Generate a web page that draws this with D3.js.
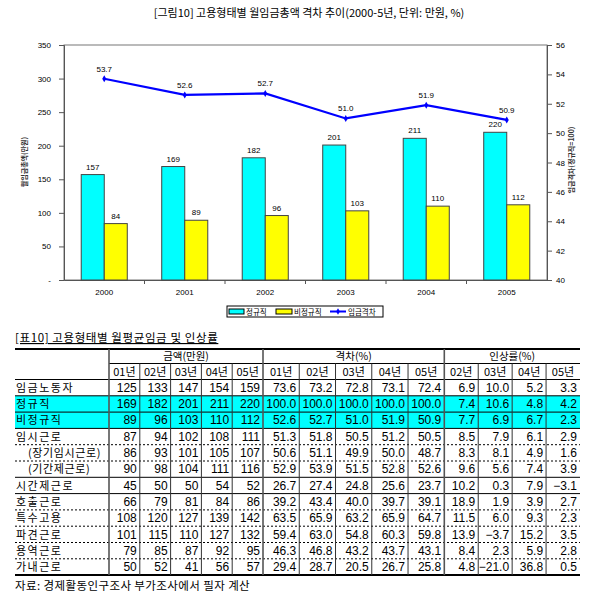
<!DOCTYPE html>
<html><head><meta charset="utf-8">
<script src="https://cdn.jsdelivr.net/npm/d3@7"></script>
<style>
body{margin:0;background:#fff;}
svg{display:block;}
</style>
</head><body>
<svg id="c" width="595" height="600"></svg>
<script>
// ---------- Chart data ----------
const categories = ["2000","2001","2002","2003","2004","2005"];
const regular = [157,169,182,201,211,220];
const nonRegular = [84,89,96,103,110,112];
const wageGap = [53.7,52.6,52.7,51.0,51.9,50.9];
const leftTicks = [0,50,100,150,200,250,300,350];
const rightTicks = [40,42,44,46,48,50,52,54,56];
const legendLabels = ["정규직","비정규직","임금격차"];
const chartTitle = "[그림10] 고용형태별 월임금총액 격차 추이(2000-5년, 단위: 만원, %)";
const leftAxisTitle = "월임금총액(만원)";
const rightAxisTitle = "임금격차(정규직=100)";

// ---------- Table data ----------
const tableTitle = "[표10] 고용형태별 월평균임금 및 인상률";
const groupHeaders = ["금액(만원)","격차(%)","인상률(%)"];
const amountYears = ["01년","02년","03년","04년","05년"];
const gapYears = ["01년","02년","03년","04년","05년"];
const rateYears = ["02년","03년","04년","05년"];
const rowLabels = ["임금노동자","정규직","비정규직","임시근로","(장기임시근로)","(기간제근로)","시간제근로","호출근로","특수고용","파견근로","용역근로","가내근로"];
const amountValues = [
  [125,133,147,154,159],
  [169,182,201,211,220],
  [89,96,103,110,112],
  [87,94,102,108,111],
  [86,93,101,105,107],
  [90,98,104,111,116],
  [45,50,50,54,52],
  [66,79,81,84,86],
  [108,120,127,139,142],
  [101,115,110,127,132],
  [79,85,87,92,95],
  [50,52,41,56,57]
];
const gapValues = [
  [73.6,73.2,72.8,73.1,72.4],
  [100.0,100.0,100.0,100.0,100.0],
  [52.6,52.7,51.0,51.9,50.9],
  [51.3,51.8,50.5,51.2,50.5],
  [50.6,51.1,49.9,50.0,48.7],
  [52.9,53.9,51.5,52.8,52.6],
  [26.7,27.4,24.8,25.6,23.7],
  [39.2,43.4,40.0,39.7,39.1],
  [63.5,65.9,63.2,65.9,64.7],
  [59.4,63.0,54.8,60.3,59.8],
  [46.3,46.8,43.2,43.7,43.1],
  [29.4,28.7,20.5,26.7,25.8]
];
const rateValues = [
  [6.9,10.0,5.2,3.3],
  [7.4,10.6,4.8,4.2],
  [7.7,6.9,6.7,2.3],
  [8.5,7.9,6.1,2.9],
  [8.3,8.1,4.9,1.6],
  [9.6,5.6,7.4,3.9],
  [10.2,0.3,7.9,-3.1],
  [18.9,1.9,3.9,2.7],
  [11.5,6.0,9.3,2.3],
  [13.9,-3.7,15.2,3.5],
  [8.4,2.3,5.9,2.8],
  [4.8,-21.0,36.8,0.5]
];
const highlightRows = [1,2];
const indentRows = [4,5];
const solidAfter = [0,1,2,5,6];
const sourceNote = "자료: 경제활동인구조사 부가조사에서 필자 계산";

// ---------- Drawing ----------
const svg = d3.select("#c");
const KR = "'Noto Sans CJK KR','Noto Sans',sans-serif";
const AR = "'Liberation Sans',Arial,sans-serif";
const NUM = "'Liberation Sans Narrow','Liberation Sans',Arial,sans-serif";

svg.append("text").attr("x",309).attr("y",17).attr("text-anchor","middle")
  .attr("font-family",KR).attr("font-size",11).attr("fill","#000").text(chartTitle);

const L=64,R=547,T=45,B=280;
const x = d3.scaleBand().domain(categories).range([L,R]).padding(0);
const yL = d3.scaleLinear().domain([0,350]).range([B,T]);
const yR = d3.scaleLinear().domain([40,56]).range([B,T]);
const groupW = x.bandwidth()*0.572;
const x1 = d3.scaleBand().domain(["r","n"]).range([0,groupW]).padding(0);

// frame
svg.append("rect").attr("x",L).attr("y",T).attr("width",R-L).attr("height",B-T)
  .attr("fill","none").attr("stroke","#777").attr("stroke-width",1);

// left axis
const gl = svg.append("g").attr("transform",`translate(${L},0)`)
  .call(d3.axisLeft(yL).tickValues(leftTicks).tickSize(5).tickPadding(8)
    .tickFormat(d=>d===0?"-":d));
// right axis
const gr = svg.append("g").attr("transform",`translate(${R},0)`)
  .call(d3.axisRight(yR).tickValues(rightTicks).tickSize(5).tickPadding(4));
[gl,gr].forEach(g=>{
  g.select(".domain").attr("stroke","#555");
  g.selectAll(".tick line").attr("stroke","#555");
  g.selectAll("text").attr("font-family",AR).attr("font-size",8).attr("fill","#000");
});
// bottom axis
const gb = svg.append("g").attr("transform",`translate(0,${B})`)
  .call(d3.axisBottom(x).tickSize(0).tickPadding(9));
gb.select(".domain").attr("stroke","#555");
gb.selectAll("text").attr("font-family",AR).attr("font-size",8).attr("fill","#000");
// category boundary ticks
svg.append("g").selectAll("line").data(categories.slice(1)).join("line")
  .attr("x1",d=>x(d)).attr("x2",d=>x(d)).attr("y1",B).attr("y2",B+4)
  .attr("stroke","#555");

// axis titles
svg.append("text").attr("transform",`translate(27,162) rotate(-90)`).attr("text-anchor","middle")
  .attr("font-family",KR).attr("font-size",7).attr("font-weight","bold").attr("fill","#333").text(leftAxisTitle);
svg.append("text").attr("transform",`translate(574,160) rotate(-90)`).attr("text-anchor","middle")
  .attr("font-family",KR).attr("font-size",7).attr("font-weight","bold").attr("fill","#333").text(rightAxisTitle);

// bars
const groups = svg.append("g").selectAll("g").data(categories).join("g")
  .attr("transform",d=>`translate(${x(d)+(x.bandwidth()-groupW)/2},0)`);
groups.append("rect").attr("x",x1("r")).attr("width",x1.bandwidth())
  .attr("y",(d,i)=>yL(regular[i])).attr("height",(d,i)=>B-yL(regular[i]))
  .attr("fill","#00FFFF").attr("stroke","#444").attr("stroke-width",1);
groups.append("rect").attr("x",x1("n")).attr("width",x1.bandwidth())
  .attr("y",(d,i)=>yL(nonRegular[i])).attr("height",(d,i)=>B-yL(nonRegular[i]))
  .attr("fill","#FFFF00").attr("stroke","#444").attr("stroke-width",1);
groups.append("text").attr("x",x1("r")+x1.bandwidth()/2).attr("y",(d,i)=>yL(regular[i])-5)
  .attr("text-anchor","middle").attr("font-family",AR).attr("font-size",8).text((d,i)=>regular[i]);
groups.append("text").attr("x",x1("n")+x1.bandwidth()/2).attr("y",(d,i)=>yL(nonRegular[i])-5)
  .attr("text-anchor","middle").attr("font-family",AR).attr("font-size",8).text((d,i)=>nonRegular[i]);

// line
const cx = d=>x(d)+x.bandwidth()/2;
svg.append("path").datum(categories)
  .attr("d",d3.line().x(cx).y((d,i)=>yR(wageGap[i])))
  .attr("fill","none").attr("stroke","#0000FF").attr("stroke-width",2.2);
svg.append("g").selectAll("path").data(categories).join("path")
  .attr("transform",(d,i)=>`translate(${cx(d)},${yR(wageGap[i])})`)
  .attr("d",d3.symbol(d3.symbolDiamond,14)).attr("fill","#0000FF");
svg.append("g").selectAll("text").data(categories).join("text")
  .attr("x",cx).attr("y",(d,i)=>yR(wageGap[i])-7).attr("text-anchor","middle")
  .attr("font-family",AR).attr("font-size",8).text((d,i)=>wageGap[i].toFixed(1));

// legend
const lg = svg.append("g");
lg.append("rect").attr("x",227).attr("y",306).attr("width",156).attr("height",11)
  .attr("fill","#fff").attr("stroke","#000");
lg.append("rect").attr("x",229).attr("y",309).attr("width",15).attr("height",5).attr("fill","#00FFFF").attr("stroke","#000");
lg.append("text").attr("x",246).attr("y",314.5).attr("font-family",KR).attr("font-size",7.5).text(legendLabels[0]);
lg.append("rect").attr("x",276).attr("y",309).attr("width",16).attr("height",5).attr("fill","#FFFF00").attr("stroke","#000");
lg.append("text").attr("x",294).attr("y",314.5).attr("font-family",KR).attr("font-size",7.5).text(legendLabels[1]);
lg.append("line").attr("x1",330).attr("x2",346).attr("y1",311.5).attr("y2",311.5).attr("stroke","#0000FF").attr("stroke-width",2);
lg.append("path").attr("transform","translate(338,311.5)").attr("d",d3.symbol(d3.symbolDiamond,12)).attr("fill","#0000FF");
lg.append("text").attr("x",348).attr("y",314.5).attr("font-family",KR).attr("font-size",7.5).text(legendLabels[2]);

// ---------- Table ----------
const tX0=15, tX1=580, labW=109;
const colEdges=[labW];
const amountW=(263-labW)/5, gapW=(444.3-263)/5, rateW=(580-444.3)/4;
for(let i=1;i<=5;i++) colEdges.push(labW+amountW*i);
for(let i=1;i<=5;i++) colEdges.push(263+gapW*i);
for(let i=1;i<=4;i++) colEdges.push(444.3+rateW*i);
const hY0=349, hY1=363.5, hY2=379.5, rowH=16.3;
const nRows=rowLabels.length;
const tBottom=hY2+rowH*nRows;
const t = svg.append("g");

t.append("text").attr("x",15).attr("y",342).attr("font-family",KR).attr("font-size",11.5)
  .attr("letter-spacing",0.6).attr("text-decoration","underline").text(tableTitle);

// highlight rows
highlightRows.forEach(r=>{
  t.append("rect").attr("x",tX0).attr("y",hY2+rowH*r).attr("width",tX1-tX0).attr("height",rowH).attr("fill","#00FFFF");
});

// horizontal lines
t.append("line").attr("x1",tX0).attr("x2",tX1).attr("y1",hY0).attr("y2",hY0).attr("stroke","#000").attr("stroke-width",2);
t.append("line").attr("x1",labW).attr("x2",tX1).attr("y1",hY1).attr("y2",hY1).attr("stroke","#000").attr("stroke-width",1);
t.append("line").attr("x1",tX0).attr("x2",tX1).attr("y1",hY2).attr("y2",hY2).attr("stroke","#000").attr("stroke-width",1);
for(let r=0;r<nRows-1;r++){
  const yy=hY2+rowH*(r+1);
  const ln=t.append("line").attr("x1",tX0).attr("x2",tX1).attr("y1",yy).attr("y2",yy).attr("stroke","#000").attr("stroke-width",1);
  if(!solidAfter.includes(r)) ln.attr("stroke-dasharray","2,2");
}
t.append("line").attr("x1",tX0).attr("x2",tX1).attr("y1",tBottom).attr("y2",tBottom).attr("stroke","#000").attr("stroke-width",2);

// vertical lines
colEdges.slice(0,colEdges.length-1).forEach((cxv,i)=>{
  const major = (i===0||i===5||i===10);
  t.append("line").attr("x1",cxv).attr("x2",cxv).attr("y1",major?hY0:hY1).attr("y2",tBottom)
    .attr("stroke",major?"#555":"#333").attr("stroke-width",major?1.6:1);
});

// headers
const groupSpans=[[labW,263],[263,444.3],[444.3,580]];
groupHeaders.forEach((h,i)=>{
  t.append("text").attr("x",(groupSpans[i][0]+groupSpans[i][1])/2).attr("y",hY1-3.5)
    .attr("text-anchor","middle").attr("font-family",KR).attr("font-size",10.5).text(h);
});
const yearHeaders = amountYears.concat(gapYears, rateYears);
yearHeaders.forEach((h,i)=>{
  t.append("text").attr("x",(colEdges[i]+colEdges[i+1])/2).attr("y",hY2-4)
    .attr("text-anchor","middle").attr("font-family",KR).attr("font-size",11).text(h);
});

// body
const fmt1 = v=>v.toFixed(1).replace("-","−");
rowLabels.forEach((lab,r)=>{
  const base = hY2+rowH*r+rowH-4;
  const ind = indentRows.includes(r);
  t.append("text").attr("x",ind?28:16).attr("y",base)
    .attr("font-family",KR).attr("font-size",11).attr("letter-spacing",ind?0.6:1.5).text(lab);
  const vals = amountValues[r].map(v=>String(v))
    .concat(gapValues[r].map(fmt1), rateValues[r].map(fmt1));
  vals.forEach((v,c)=>{
    t.append("text").attr("x",colEdges[c+1]-3).attr("y",base).attr("text-anchor","end")
      .attr("font-family",NUM).attr("font-size",12).text(v);
  });
});

t.append("text").attr("x",15).attr("y",590).attr("font-family",KR).attr("font-size",11.5)
  .attr("letter-spacing",0.4).text(sourceNote);
</script>
</body></html>
